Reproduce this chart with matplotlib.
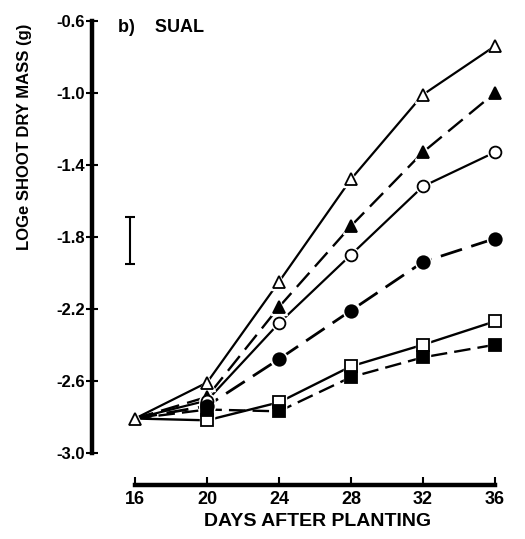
import matplotlib
matplotlib.use('Agg')
import matplotlib.pyplot as plt

plt.rcParams['font.family'] = ['Liberation Sans', 'DejaVu Sans']
plt.rcParams['axes.unicode_minus'] = False

# datos
days = [16, 20, 24, 28, 32, 36]
open_tri = [-2.81, -2.61, -2.05, -1.48, -1.01, -0.74]
filled_tri = [-2.81, -2.69, -2.19, -1.74, -1.33, -1.00]
open_circ = [-2.81, -2.71, -2.28, -1.90, -1.52, -1.33]
filled_circ = [-2.81, -2.74, -2.48, -2.21, -1.94, -1.81]
open_sq = [-2.81, -2.82, -2.72, -2.52, -2.40, -2.27]
filled_sq = [-2.81, -2.76, -2.77, -2.58, -2.47, -2.40]

y_ticks = [-0.6, -1.0, -1.4, -1.8, -2.2, -2.6, -3.0]
x_ticks = [16, 20, 24, 28, 32, 36]

# barra de error (LSD)
err_x = 15.72
err_y = -1.82
err_half = 0.13

fig = plt.figure(figsize=(5.25, 5.39), dpi=100)
ax = fig.add_axes([0.175, 0.1, 0.802, 0.878])

series = [
    (open_tri, '^', 'white', '-', 1.6, 8.5),
    (filled_tri, '^', 'black', (0, (8, 3.5)), 1.7, 8.5),
    (open_circ, 'o', 'white', '-', 1.6, 8.5),
    (filled_circ, 'o', 'black', (0, (8, 3.5)), 2.0, 9),
    (open_sq, 's', 'white', '-', 1.7, 8),
    (filled_sq, 's', 'black', (0, (7, 3)), 1.7, 8),
]

for vals, m, fc, ls, lw, ms in series:
    ax.plot(days, vals, color='black', linestyle=ls, linewidth=lw, zorder=2)

# hueco blanco alrededor de los marcadores
for i, (vals, m, fc, ls, lw, ms) in enumerate(series):
    idx = list(range(6)) if i == 0 else list(range(1, 6))
    ax.plot([days[k] for k in idx], [vals[k] for k in idx], linestyle='none',
            marker=m, markersize=ms + 2.5, markerfacecolor='white',
            markeredgecolor='white', zorder=3)

for i, (vals, m, fc, ls, lw, ms) in enumerate(series):
    idx = list(range(6)) if i == 0 else list(range(1, 6))
    ax.plot([days[k] for k in idx], [vals[k] for k in idx], linestyle='none',
            marker=m, markersize=ms, markerfacecolor=fc,
            markeredgecolor='black', markeredgewidth=1.3, zorder=4)

ax.errorbar([err_x], [err_y], yerr=[err_half], fmt='none', ecolor='black',
            elinewidth=1.5, capsize=3.5, capthick=1.5)

ax.set_xlim(13.6, 37.0)
ax.set_ylim(-3.18, -0.55)

ax.spines['top'].set_visible(False)
ax.spines['right'].set_visible(False)
ax.spines['left'].set_bounds(-3.0, -0.6)
ax.spines['bottom'].set_bounds(16, 36)
ax.spines['left'].set_linewidth(3.2)
ax.spines['bottom'].set_linewidth(3.2)

ax.set_yticks(y_ticks)
ax.set_yticklabels(['%.1f' % v for v in y_ticks])
ax.set_xticks(x_ticks)
ax.set_xticklabels([str(d) for d in x_ticks])
ax.tick_params(axis='y', direction='inout', length=8, width=1.5, pad=1,
               labelsize=12)
ax.tick_params(axis='x', direction='in', length=6, width=1.5, pad=4,
               labelsize=13)
for lab in ax.get_xticklabels() + ax.get_yticklabels():
    lab.set_fontweight('bold')

fig.text(25 / 525, 1 - 137 / 539, 'LOGe SHOOT DRY MASS (g)', rotation=90,
         ha='center', va='center', fontsize=12, fontweight='bold')
fig.text(318 / 525, 1 - 521 / 539, 'DAYS AFTER PLANTING', ha='center',
         va='center', fontsize=14, fontweight='bold')
fig.text(118 / 525, 1 - 27 / 539, 'b)    SUAL', ha='left', va='center',
         fontsize=13, fontweight='bold')

fig.savefig('out.png', dpi=100)
